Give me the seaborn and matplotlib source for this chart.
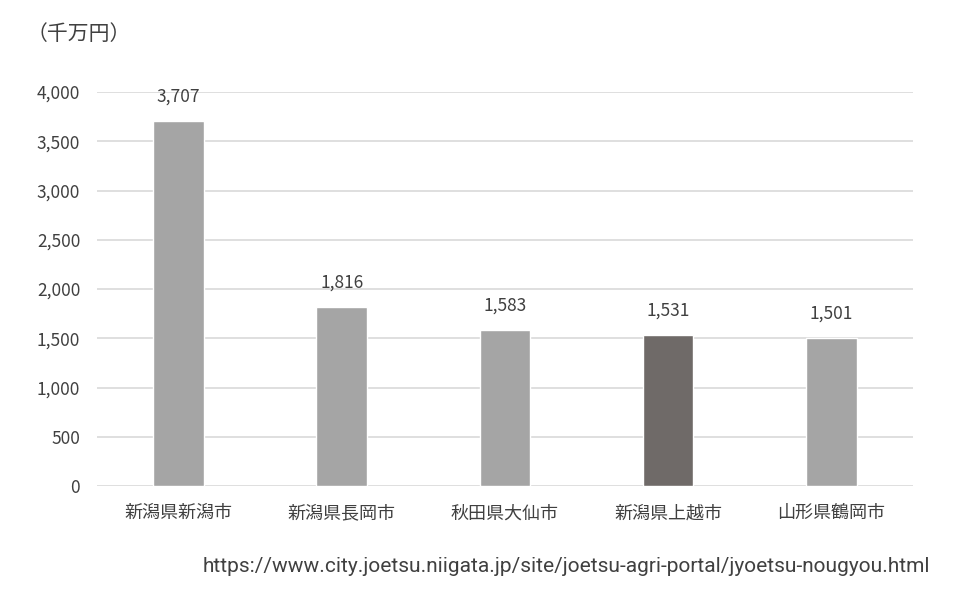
import matplotlib
matplotlib.use('Agg')
import matplotlib.pyplot as plt
import seaborn as sns
import pandas as pd

# data
cities = ['新潟県新潟市', '新潟県長岡市', '秋田県大仙市', '新潟県上越市', '山形県鶴岡市']
values = [3707, 1816, 1583, 1531, 1501]
bar_colors = ['#a5a5a5', '#a5a5a5', '#a5a5a5', '#6f6a68', '#a5a5a5']
yticks = [0, 500, 1000, 1500, 2000, 2500, 3000, 3500, 4000]
unit_label = '（千万円）'
source_url = 'https://www.city.joetsu.niigata.jp/site/joetsu-agri-portal/jyoetsu-nougyou.html'

df = pd.DataFrame({'city': cities, 'value': values})

sns.set_style('white')
plt.rcParams['font.family'] = ['Noto Sans CJK JP', 'DejaVu Sans']
text_color = '#404040'

fig = plt.figure(figsize=(9.59, 5.93), dpi=100)
ax = fig.add_axes([0.101, 0.180, 0.851, 0.665])

sns.barplot(data=df, x='city', y='value', hue='city', palette=bar_colors,
            legend=False, width=0.31, ax=ax, saturation=1)

ax.set_ylim(0, 4000)
ax.set_yticks(yticks)
ax.set_yticklabels([f'{v:,}' for v in yticks], fontsize=12.5, color=text_color)
ax.set_xticks(range(len(cities)))
ax.set_xticklabels(cities, fontsize=13, color=text_color)
ax.set_xlabel('')
ax.set_ylabel('')
ax.yaxis.grid(True, color='#d9d9d9', linewidth=1.2)
ax.set_axisbelow(True)
ax.tick_params(axis='y', length=0, pad=12)
ax.tick_params(axis='x', length=0, pad=13)
for s in ax.spines.values():
    s.set_visible(False)

for i, v in enumerate(values):
    ax.annotate(f'{v:,}', (i, v), xytext=(0, 11), textcoords='offset points',
                ha='center', va='bottom', fontsize=12.5, color=text_color)

fig.text(0.028, 0.943, unit_label, fontsize=15, color=text_color, ha='left', va='center')
fig.text(0.970, 0.044, source_url, fontsize=15, color=text_color, ha='right',
         va='center', family=['Roboto', 'DejaVu Sans'])

fig.savefig('out.png', dpi=100)
